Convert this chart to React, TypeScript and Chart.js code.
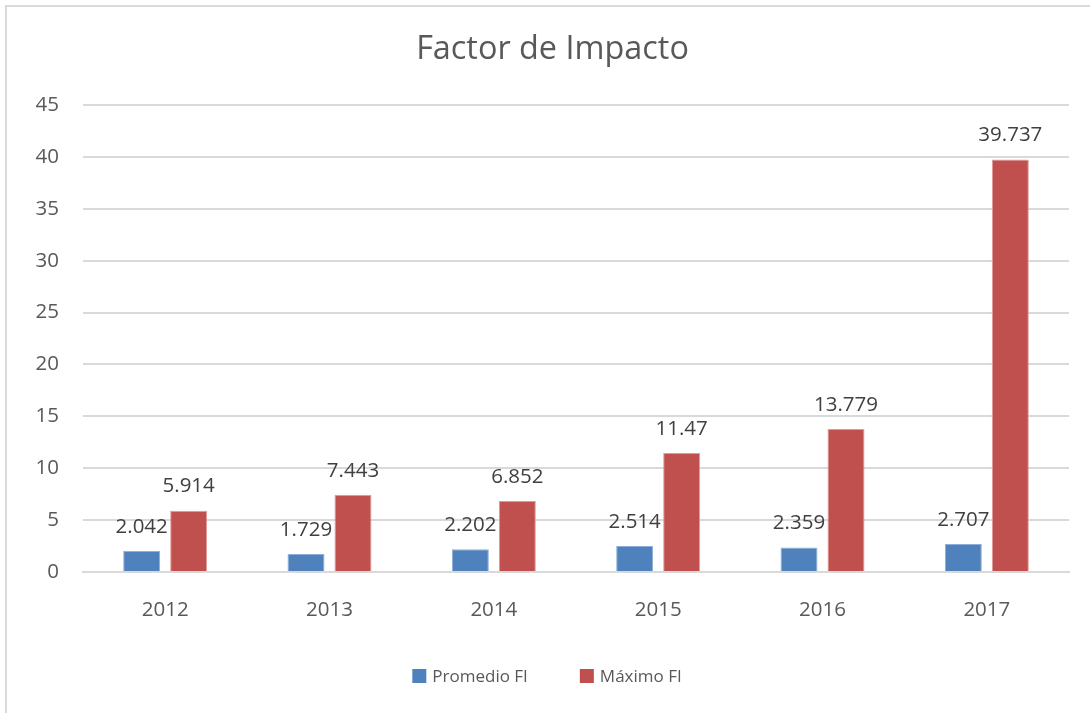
import React, { useEffect, useRef } from "react";
import { Chart, registerables } from "chart.js";

Chart.register(...registerables);

const categories = ["2012", "2013", "2014", "2015", "2016", "2017"];
const promedioFI = [2.042, 1.729, 2.202, 2.514, 2.359, 2.707];
const maximoFI = [5.914, 7.443, 6.852, 11.47, 13.779, 39.737];
const seriesNames = ["Promedio FI", "Máximo FI"];
const seriesColors = ["#4F81BD", "#C0504D"];
const seriesBorders = ["#8FAEDB", "#E09A98"];
const chartTitle = "Factor de Impacto";

const FONT = "'Open Sans', sans-serif";

const dataLabelPlugin = {
  id: "dataLabels",
  afterDatasetsDraw(chart: any) {
    const ctx = chart.ctx;
    ctx.save();
    ctx.font = `20.5px ${FONT}`;
    ctx.fillStyle = "#404040";
    ctx.textAlign = "center";
    ctx.textBaseline = "middle";
    chart.data.datasets.forEach((ds: any, di: number) => {
      const meta = chart.getDatasetMeta(di);
      meta.data.forEach((el: any, i: number) => {
        const v = ds.data[i];
        ctx.fillText(String(v), el.x, el.y - 24);
      });
    });
    ctx.restore();
  },
};

const titleAndLegendPlugin = {
  id: "titleAndLegend",
  afterDraw(chart: any) {
    const ctx = chart.ctx;
    ctx.save();
    // title
    ctx.font = `32.4px ${FONT}`;
    ctx.fillStyle = "#595959";
    ctx.textAlign = "center";
    ctx.textBaseline = "middle";
    ctx.fillText(chartTitle, 552.5, 50);
    // legend
    ctx.font = `17px ${FONT}`;
    ctx.textAlign = "left";
    const box = 14;
    const gapBoxText = 6;
    const gapItems = 52;
    const items = chart.data.datasets.map((ds: any) => ({
      text: ds.label,
      color: ds.backgroundColor,
      w: ctx.measureText(ds.label).width,
    }));
    const total =
      items.reduce((s: number, it: any) => s + box + gapBoxText + it.w, 0) + gapItems * (items.length - 1);
    let x = (chart.width - total) / 2 + 2;
    const y = 676;
    items.forEach((it: any) => {
      ctx.fillStyle = it.color;
      ctx.fillRect(x, y - box / 2, box, box);
      x += box + gapBoxText;
      ctx.fillStyle = "#595959";
      ctx.fillText(it.text, x, y + 1);
      x += it.w + gapItems;
    });
    ctx.restore();
  },
};

export default function App() {
  const ref = useRef<HTMLCanvasElement | null>(null);
  useEffect(() => {
    if (!ref.current) return;
    const chart = new Chart(ref.current, {
      type: "bar",
      data: {
        labels: categories,
        datasets: [
          {
            label: seriesNames[0],
            data: promedioFI,
            backgroundColor: seriesColors[0],
            borderColor: seriesBorders[0],
            borderWidth: 1,
            categoryPercentage: 0.572,
            barPercentage: 0.787,
          },
          {
            label: seriesNames[1],
            data: maximoFI,
            backgroundColor: seriesColors[1],
            borderColor: seriesBorders[1],
            borderWidth: 1,
            categoryPercentage: 0.572,
            barPercentage: 0.787,
          },
        ],
      },
      options: {
        animation: false,
        responsive: false,
        maintainAspectRatio: false,
        layout: { padding: { left: 0, right: 21, top: 105, bottom: 89 } },
        plugins: {
          title: { display: false },
          legend: { display: false },
          tooltip: { enabled: false },
        },
        scales: {
          x: {
            grid: { display: false, drawTicks: false },
            border: { display: true, color: "#D9D9D9", width: 2 },
            ticks: { color: "#595959", font: { family: FONT, size: 20.5 }, padding: 26 },
            afterFit: (scale: any) => {
              scale.height = 52;
            },
          },
          y: {
            min: 0,
            max: 45,
            grid: { color: "#D9D9D9", lineWidth: 2, drawTicks: false },
            border: { display: false },
            ticks: { stepSize: 5, color: "#595959", font: { family: FONT, size: 20.5 }, padding: 24 },
            afterFit: (scale: any) => {
              scale.width = 83;
            },
          },
        },
      },
      plugins: [dataLabelPlugin, titleAndLegendPlugin],
    });
    return () => chart.destroy();
  }, []);

  return (
    <div style={{ position: "fixed", left: 0, top: 0, width: 1090, height: 713, background: "#fff" }}>
      <div
        style={{
          position: "absolute",
          left: 5,
          top: 5,
          width: 1200,
          height: 800,
          border: "2px solid #D9D9D9",
          boxSizing: "border-box",
        }}
      />
      <canvas ref={ref} width={1090} height={713} style={{ position: "absolute", left: 0, top: 0 }} />
    </div>
  );
}
